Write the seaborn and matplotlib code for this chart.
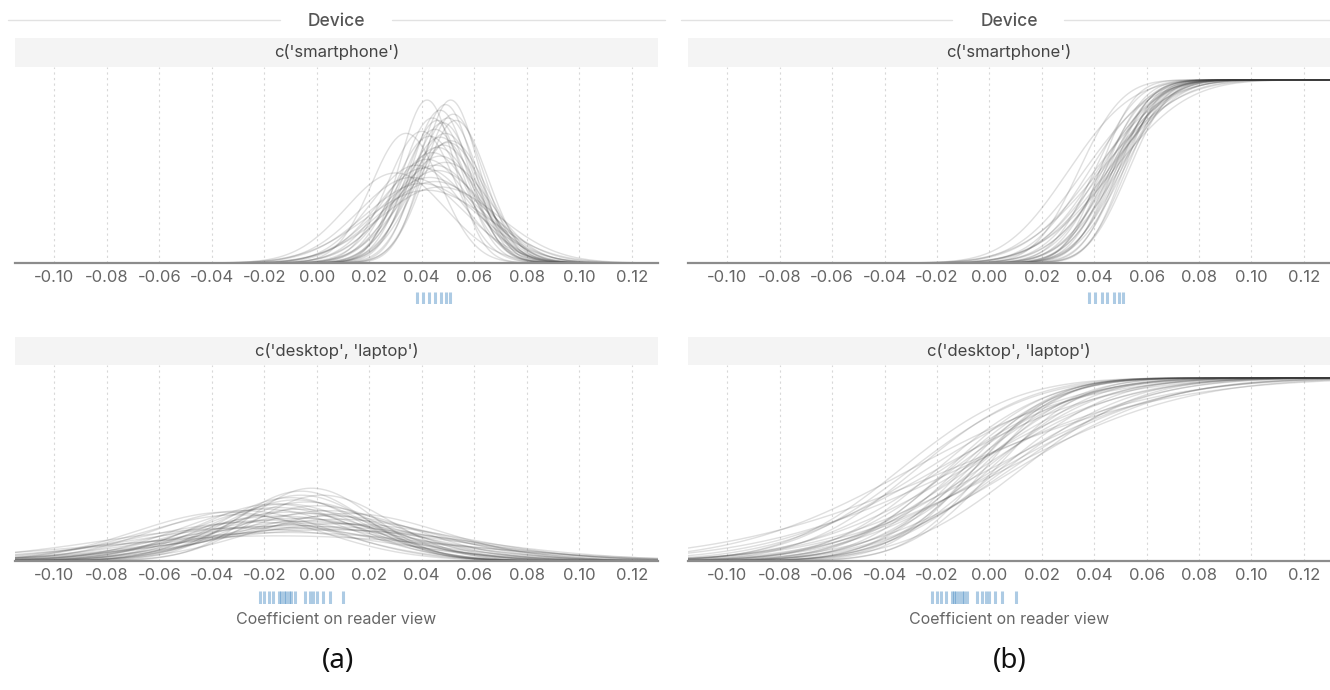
import math
import numpy as np
import pandas as pd
import matplotlib
matplotlib.use("Agg")
import matplotlib.pyplot as plt
from matplotlib.lines import Line2D
import seaborn as sns

# ---------------- data ----------------
facet_labels = ["c('smartphone')", "c('desktop', 'laptop')"]
header_label = "Device"
x_label = "Coefficient on reader view"
panel_tags = ["(a)", "(b)"]
tick_values = [-0.10, -0.08, -0.06, -0.04, -0.02, 0.00, 0.02, 0.04, 0.06, 0.08, 0.10, 0.12]

# per-draw posterior location / scale (smartphone)
smart_loc = [0.042, 0.051, 0.049, 0.047, 0.052, 0.050, 0.046, 0.048, 0.053, 0.044,
             0.045, 0.049, 0.047, 0.051, 0.043, 0.040, 0.034, 0.048, 0.046, 0.050,
             0.044, 0.047, 0.042, 0.049, 0.045, 0.041, 0.046, 0.038,
             0.043, 0.045, 0.040, 0.047, 0.042, 0.030, 0.036]
smart_scale = [0.0105, 0.0105, 0.0108, 0.0112, 0.0115, 0.0118, 0.0120, 0.0122, 0.0120, 0.0118,
               0.0128, 0.0132, 0.0136, 0.0140, 0.0135, 0.0130, 0.0132, 0.0145, 0.0148, 0.0142,
               0.0155, 0.0160, 0.0165, 0.0170, 0.0175, 0.0180, 0.0185, 0.0175,
               0.0200, 0.0210, 0.0215, 0.0225, 0.0235, 0.0190, 0.0200]

# per-draw posterior location / scale (desktop, laptop)
desk_loc = [-0.002, -0.006, 0.002, -0.010, -0.008, -0.004, -0.012, 0.000, -0.015, -0.006,
            0.004, -0.010, -0.020, -0.028, -0.034, -0.030, -0.002, 0.006, -0.014, -0.008,
            0.008, -0.018, -0.004, 0.002, -0.024, 0.010, -0.010, 0.004, -0.020, 0.000,
            0.006, -0.030, -0.016, -0.006, 0.012, -0.012, -0.015]
desk_scale = [0.0235, 0.0245, 0.0260, 0.0270, 0.0280, 0.0290, 0.0300, 0.0310, 0.0320, 0.0330,
              0.0340, 0.0350, 0.0330, 0.0340, 0.0350, 0.0370, 0.0360, 0.0380, 0.0380, 0.0400,
              0.0410, 0.0420, 0.0430, 0.0450, 0.0440, 0.0460, 0.0480, 0.0500, 0.0500, 0.0530,
              0.0550, 0.0520, 0.0300, 0.0260, 0.0360, 0.0600, 0.0680]

# point estimates shown as rugs
smart_rug = [0.0382, 0.0405, 0.0428, 0.0450, 0.0475, 0.0494, 0.0509]
desk_rug = [-0.0217, -0.0201, -0.0183, -0.0166, -0.0144, -0.0135, -0.0126, -0.0116,
            -0.0105, -0.0097, -0.0084, -0.0046, -0.0027, -0.0014, -0.0001, 0.0022,
            0.0050, 0.0101]

# ---------------- build long-form table ----------------
XMIN, XMAX = -0.115, 0.13
grid = np.linspace(XMIN, XMAX, 500)
erf_v = np.vectorize(math.erf)

rows = []
for facet, locs, scales in [(0, smart_loc, smart_scale), (1, desk_loc, desk_scale)]:
    for d, (m, s) in enumerate(zip(locs, scales)):
        z = (grid - m) / s
        dens = np.exp(-0.5 * z ** 2) / (s * math.sqrt(2 * math.pi))
        cdf = 0.5 * (1 + erf_v(z / math.sqrt(2)))
        rows.append(pd.DataFrame({"facet": facet, "draw": d, "x": grid,
                                  "density": dens, "cdf": cdf}))
df = pd.concat(rows, ignore_index=True)
rugs = [smart_rug, desk_rug]

# ---------------- figure ----------------
sns.set_theme(style="white")
plt.rcParams["font.family"] = ["Inter", "DejaVu Sans"]

W, H = 1330, 690
fig = plt.figure(figsize=(W / 100, H / 100), dpi=100)

def fx(px):
    return px / W

def fy(py):
    return 1 - py / H

cols = [(15, 643), (688, 642)]
rows_px = [  # strip top, axes top, axes bottom, rug top, rug bottom
    (38, 67, 263, 292, 304),
    (337, 365, 561, 591, 604),
]
ycols = ["density", "cdf"]
ytops = [45.7, 1.07]

for ci, (x0, w) in enumerate(cols):
    for ri, (st, at, ab, rt, rb) in enumerate(rows_px):
        # strip
        sax = fig.add_axes([fx(x0), fy(at), fx(w), (at - st) / H])
        sax.set_facecolor("#f4f4f4")
        for sp in sax.spines.values():
            sp.set_visible(False)
        sax.set_xticks([]); sax.set_yticks([])
        sax.text(0.5, 0.5, facet_labels[ri], ha="center", va="center",
                 fontsize=12, color="#444444", transform=sax.transAxes)

        # main panel
        ax = fig.add_axes([fx(x0), fy(ab), fx(w), (ab - at) / H])
        sub = df[df["facet"] == ri]
        sns.lineplot(data=sub, x="x", y=ycols[ci], units="draw", estimator=None,
                     color="#3a3a3a", alpha=0.16, linewidth=1.0, ax=ax, legend=False)
        ax.set_xlim(XMIN, XMAX)
        ax.set_ylim(0, ytops[ci])
        ax.set_xticks(tick_values)
        ax.set_xticklabels([f"{v:.2f}" for v in tick_values])
        ax.set_yticks([])
        ax.set_xlabel(""); ax.set_ylabel("")
        ax.tick_params(axis="x", length=0, pad=5, labelsize=12, labelcolor="#666666")
        ax.grid(axis="x", color="#d8d8d8", linestyle=(0, (2, 3)), linewidth=0.8)
        ax.set_axisbelow(True)
        for k in ["left", "right", "top"]:
            ax.spines[k].set_visible(False)
        ax.spines["bottom"].set_color("#8c8c8c")
        ax.spines["bottom"].set_linewidth(1.6)

        # rug
        rax = fig.add_axes([fx(x0), fy(rb), fx(w), (rb - rt) / H])
        sns.rugplot(x=rugs[ri], height=1.0, ax=rax, color="#4a8cc4",
                    alpha=0.45, linewidth=2.2)
        rax.set_xlim(XMIN, XMAX)
        rax.set_ylim(0, 1)
        rax.axis("off")

    cx = x0 + w / 2
    # header
    fig.text(fx(cx), fy(21), header_label, ha="center", va="center",
             fontsize=12.5, color="#555555", fontweight="medium")
    fig.add_artist(Line2D([fx(x0 - 7), fx(cx - 57)], [fy(20), fy(20)],
                          color="#e2e2e2", linewidth=1.0))
    fig.add_artist(Line2D([fx(cx + 55), fx(min(x0 + w + 7, W))], [fy(20), fy(20)],
                          color="#e2e2e2", linewidth=1.0))
    # x label
    fig.text(fx(cx), fy(619), x_label, ha="center", va="center",
             fontsize=11.5, color="#666666")
    # panel tag
    fig.text(fx(cx + 1), fy(661), panel_tags[ci], ha="center", va="center",
             fontsize=20, color="#111111", family=["Noto Sans", "DejaVu Sans"])

fig.savefig("out.png", dpi=100)
